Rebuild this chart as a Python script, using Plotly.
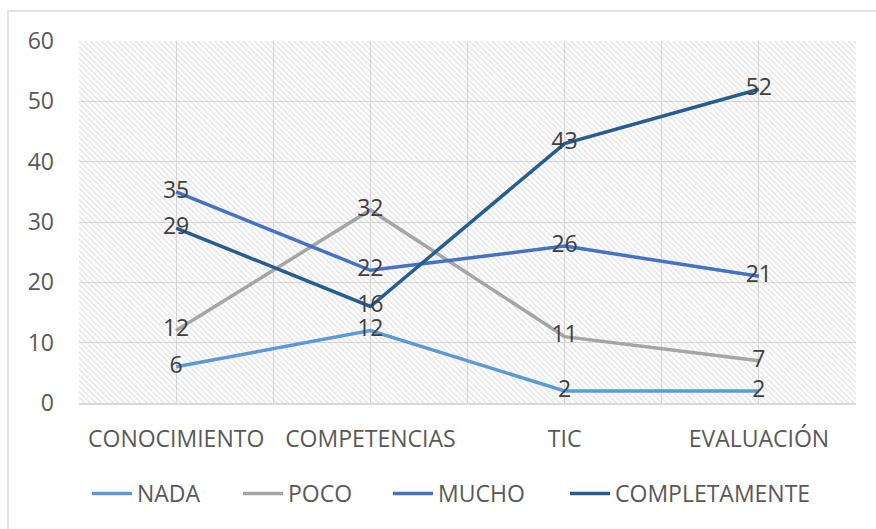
import plotly.graph_objects as go

categories = ["CONOCIMIENTO", "COMPETENCIAS", "TIC", "EVALUACIÓN"]
series_names = ["NADA", "POCO", "MUCHO", "COMPLETAMENTE"]
nada = [6, 12, 2, 2]
poco = [12, 32, 11, 7]
mucho = [35, 22, 26, 21]
completamente = [29, 16, 43, 52]
colors = ["#5B9BD5", "#A5A5A5", "#4472C4", "#255E91"]
y_ticks = [0, 10, 20, 30, 40, 50, 60]

FONT = "Open Sans"
W, H = 876, 529
L, R, T, B = 79, 20, 41, 126
pw, ph = W - L - R, H - T - B

# left edge (px) of each legend entry's text
legend_text_px = [137, 288, 438, 615]

fig = go.Figure()

# hatched plot-area background
xidx = list(range(len(categories)))
fig.add_trace(go.Scatter(
    x=[xidx[0] - 0.5, xidx[-1] + 0.5, xidx[-1] + 0.5, xidx[0] - 0.5, xidx[0] - 0.5],
    y=[y_ticks[0], y_ticks[0], y_ticks[-1], y_ticks[-1], y_ticks[0]],
    mode="lines", line=dict(width=0), fill="toself",
    fillcolor="rgba(0,0,0,0)",
    fillpattern=dict(shape="\\", fgcolor="#c8c8c8", bgcolor="rgba(0,0,0,0)",
                     size=4, solidity=0.35, fillmode="overlay"),
    hoverinfo="skip", showlegend=False,
))

legend_layouts = {}
for i, (name, vals, c) in enumerate(zip(series_names, [nada, poco, mucho, completamente], colors)):
    lname = "legend" if i == 0 else f"legend{i + 1}"
    fig.add_trace(go.Scatter(
        x=xidx, y=vals, name=name, mode="lines+text",
        line=dict(color=c, width=3.5),
        text=[str(v) for v in vals], textposition="middle center",
        textfont=dict(family=FONT, size=23, color="#404040"),
        legend=lname,
    ))
    legend_layouts[lname] = dict(
        orientation="h", x=(legend_text_px[i] - 50 - L) / pw, xanchor="left",
        y=-0.25, yanchor="middle", bgcolor="rgba(0,0,0,0)",
        font=dict(family=FONT, size=23, color="#595959"), itemwidth=40,
    )

fig.update_layout(
    width=W, height=H,
    margin=dict(l=L, r=R, t=T, b=B),
    paper_bgcolor="white", plot_bgcolor="white",
    font=dict(family=FONT, size=23, color="#595959"),
    showlegend=True,
    xaxis=dict(range=[-0.5, len(categories) - 0.5], tickvals=xidx, ticktext=categories,
               showgrid=True, gridcolor="#d9d9d9", gridwidth=1,
               minor=dict(tick0=0.5, dtick=1, showgrid=True, gridcolor="#d9d9d9", gridwidth=1),
               zeroline=False, showline=True, linecolor="#d9d9d9", linewidth=2,
               ticks="", ticklabelstandoff=14, fixedrange=True),
    yaxis=dict(range=[y_ticks[0], y_ticks[-1]], tickvals=y_ticks,
               showgrid=True, gridcolor="#d9d9d9", gridwidth=1,
               zeroline=False, showline=False, ticks="", ticklabelstandoff=24,
               fixedrange=True),
    shapes=[dict(type="rect", xref="paper", yref="paper",
                 x0=(8 - L) / pw, x1=(W + 20 - L) / pw,
                 y0=-(H + 20 - (H - B)) / ph, y1=((H - B) - 11) / ph,
                 line=dict(color="#d9d9d9", width=1.5), fillcolor="rgba(0,0,0,0)", layer="below")],
    **legend_layouts,
)

fig.write_html("out.html")
